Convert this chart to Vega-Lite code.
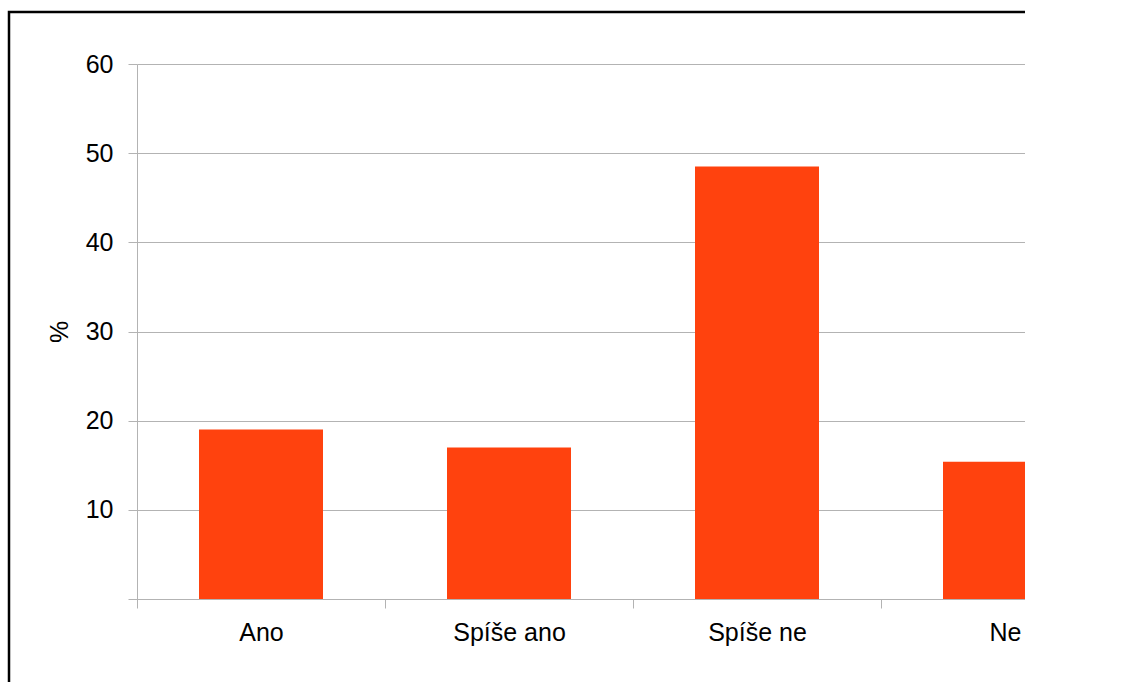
{
  "$schema": "https://vega.github.io/schema/vega-lite/v6.json",
  "autosize": {"type": "none"},
  "padding": {"left": 9, "top": 12, "right": -6, "bottom": -6},
  "width": 1022,
  "height": 676,
  "data": {
    "values": [
      {"odpoved": "Ano", "procent": 19.0},
      {"odpoved": "Spíše ano", "procent": 17.0},
      {"odpoved": "Spíše ne", "procent": 48.5},
      {"odpoved": "Ne", "procent": 15.4}
    ]
  },
  "mark": {"type": "bar", "color": "#ff420e", "width": {"band": 0.5}},
  "encoding": {
    "x": {
      "field": "odpoved",
      "type": "nominal",
      "sort": null,
      "scale": {"range": [128, 1120], "paddingInner": 0, "paddingOuter": 0},
      "axis": {
        "title": null,
        "orient": "bottom",
        "offset": -89,
        "tickBand": "extent",
        "labelAngle": 0,
        "grid": false,
        "labelPadding": 12
      }
    },
    "y": {
      "field": "procent",
      "type": "quantitative",
      "scale": {"domain": [0, 60], "range": [587, 52], "nice": false},
      "axis": {
        "title": "%",
        "offset": -128,
        "values": [0, 10, 20, 30, 40, 50, 60],
        "labelExpr": "datum.value == 0 ? '' : datum.label",
        "grid": true,
        "labelPadding": 15,
        "titlePadding": 13
      }
    }
  },
  "config": {
    "view": {"stroke": "black", "strokeWidth": 2.5},
    "axis": {
      "domainColor": "#b3b3b3",
      "domainWidth": 1,
      "tickColor": "#b3b3b3",
      "tickWidth": 1,
      "tickSize": 9,
      "gridColor": "#b3b3b3",
      "gridWidth": 1,
      "labelFont": "Liberation Sans",
      "labelFontSize": 25,
      "labelColor": "black",
      "titleFont": "Liberation Sans",
      "titleFontSize": 25,
      "titleFontWeight": "normal",
      "titleColor": "black"
    }
  }
}
